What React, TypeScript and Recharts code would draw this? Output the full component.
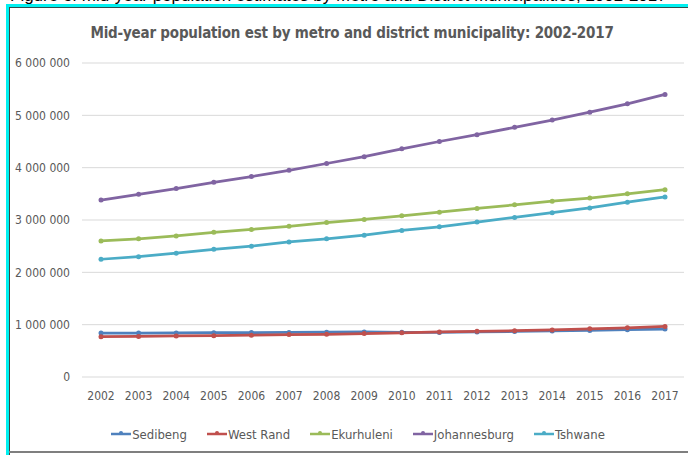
import { LineChart, Line, XAxis, YAxis, CartesianGrid, Legend } from "recharts"

const years = ["2002", "2003", "2004", "2005", "2006", "2007", "2008", "2009", "2010", "2011", "2012", "2013", "2014", "2015", "2016", "2017"]

const sedibeng = [840000, 840000, 842000, 846000, 850000, 852000, 856000, 860000, 855000, 852000, 860000, 870000, 880000, 890000, 905000, 915000]
const westRand = [770000, 775000, 785000, 790000, 800000, 810000, 815000, 830000, 845000, 860000, 872000, 885000, 900000, 920000, 940000, 965000]
const ekurhuleni = [2600000, 2640000, 2695000, 2765000, 2820000, 2880000, 2950000, 3010000, 3080000, 3150000, 3220000, 3290000, 3360000, 3420000, 3500000, 3580000]
const johannesburg = [3380000, 3490000, 3600000, 3720000, 3830000, 3950000, 4080000, 4210000, 4360000, 4500000, 4630000, 4770000, 4910000, 5060000, 5220000, 5400000]
const tshwane = [2250000, 2300000, 2365000, 2440000, 2500000, 2580000, 2640000, 2710000, 2800000, 2870000, 2960000, 3050000, 3140000, 3230000, 3340000, 3440000]

const yTicks = [0, 1000000, 2000000, 3000000, 4000000, 5000000, 6000000]

const SERIES = [
  { key: "Sedibeng", values: sedibeng, color: "#4F81BD" },
  { key: "West Rand", values: westRand, color: "#C0504D" },
  { key: "Ekurhuleni", values: ekurhuleni, color: "#9BBB59" },
  { key: "Johannesburg", values: johannesburg, color: "#8064A2" },
  { key: "Tshwane", values: tshwane, color: "#4BACC6" },
]

const data = years.map((year, i) => {
  const row: Record<string, string | number> = { year }
  SERIES.forEach((s) => { row[s.key] = s.values[i] })
  return row
})

const FONT = "'DejaVu Sans Condensed', 'DejaVu Sans', sans-serif"
const GREY = "#595959"

function fmt(v: number) {
  return String(v).replace(/\B(?=(\d{3})+(?!\d))/g, " ")
}

function LegendContent({ payload }: any) {
  const order = SERIES.map((s) => s.key)
  const items = [...(payload || [])].sort((a: any, b: any) => order.indexOf(a.value) - order.indexOf(b.value))
  return (
    <div style={{ display: "flex", justifyContent: "center", alignItems: "center", height: 30, paddingLeft: 52, boxSizing: "border-box", fontFamily: FONT, fontStretch: "condensed", fontSize: 13, color: GREY }}>
      {items.map((p: any) => (
        <div key={p.value} style={{ display: "flex", alignItems: "center", marginRight: 20 }}>
          <svg width={20} height={8} style={{ marginRight: 1 }}>
            <line x1={0} y1={4} x2={20} y2={4} stroke={p.color} strokeWidth={2.5} />
            <circle cx={10} cy={3} r={2} fill={p.color} />
          </svg>
          <span>{p.value}</span>
        </div>
      ))}
    </div>
  )
}

export default function App() {
  return (
    <div style={{ position: "absolute", left: 0, top: 0, width: 688, height: 455, background: "#fff", overflow: "hidden" }}>
      {/* cut-off caption from the page above the chart */}
      <div style={{ position: "absolute", left: 10, top: -13, fontFamily: "'Liberation Sans', Arial, sans-serif", fontSize: 17, lineHeight: "17px", color: "#000", whiteSpace: "nowrap" }}>
        Figure of mid-year population estimates by Metro and District Municipalities, 2002-2017
      </div>
      {/* frame */}
      <div style={{ position: "absolute", left: 6, top: 4, width: 682, height: 3, background: "#00F0F0" }} />
      <div style={{ position: "absolute", left: 6, top: 4, width: 3, height: 451, background: "#00F0F0" }} />
      <div style={{ position: "absolute", left: 9, top: 7, width: 679, height: 1, background: "#2F4F4F" }} />
      <div style={{ position: "absolute", left: 9, top: 7, width: 1, height: 448, background: "#444" }} />
      <div style={{ position: "absolute", left: 9, top: 451, width: 679, height: 2, background: "#7F7F7F" }} />

      <div style={{ position: "absolute", left: 0, top: 24, width: 688, textAlign: "center", fontFamily: FONT, fontStretch: "condensed", fontWeight: "bold", fontSize: 15, letterSpacing: -0.2, color: GREY, paddingLeft: 16, boxSizing: "border-box" }}>
        Mid-year population est by metro and district municipality: 2002-2017
      </div>

      <div style={{ position: "absolute", left: 0, top: 0 }}>
        <LineChart width={688} height={455} data={data} margin={{ top: 63, right: 4, left: 0, bottom: 6 }}>
          <CartesianGrid vertical={false} stroke="#D9D9D9" />
          <XAxis
            dataKey="year"
            axisLine={false}
            tickLine={false}
            tickSize={0}
            tickMargin={14}
            height={42}
            padding={{ left: 19, right: 19 }}
            tick={{ fontFamily: FONT, fontStretch: "condensed", fontSize: 12, fill: GREY }}
          />
          <YAxis
            width={82}
            domain={[0, 6000000]}
            ticks={yTicks}
            tickFormatter={fmt}
            axisLine={false}
            tickLine={false}
            tickSize={0}
            tickMargin={12}
            tick={{ fontFamily: FONT, fontStretch: "condensed", fontSize: 12, fill: GREY }}
          />
          <Legend verticalAlign="bottom" height={30} content={<LegendContent />} />
          {SERIES.map((s) => (
            <Line
              key={s.key}
              dataKey={s.key}
              stroke={s.color}
              strokeWidth={2.75}
              dot={{ r: 2.5, fill: s.color, stroke: s.color, strokeWidth: 0 }}
              isAnimationActive={false}
            />
          ))}
        </LineChart>
      </div>
    </div>
  )
}
